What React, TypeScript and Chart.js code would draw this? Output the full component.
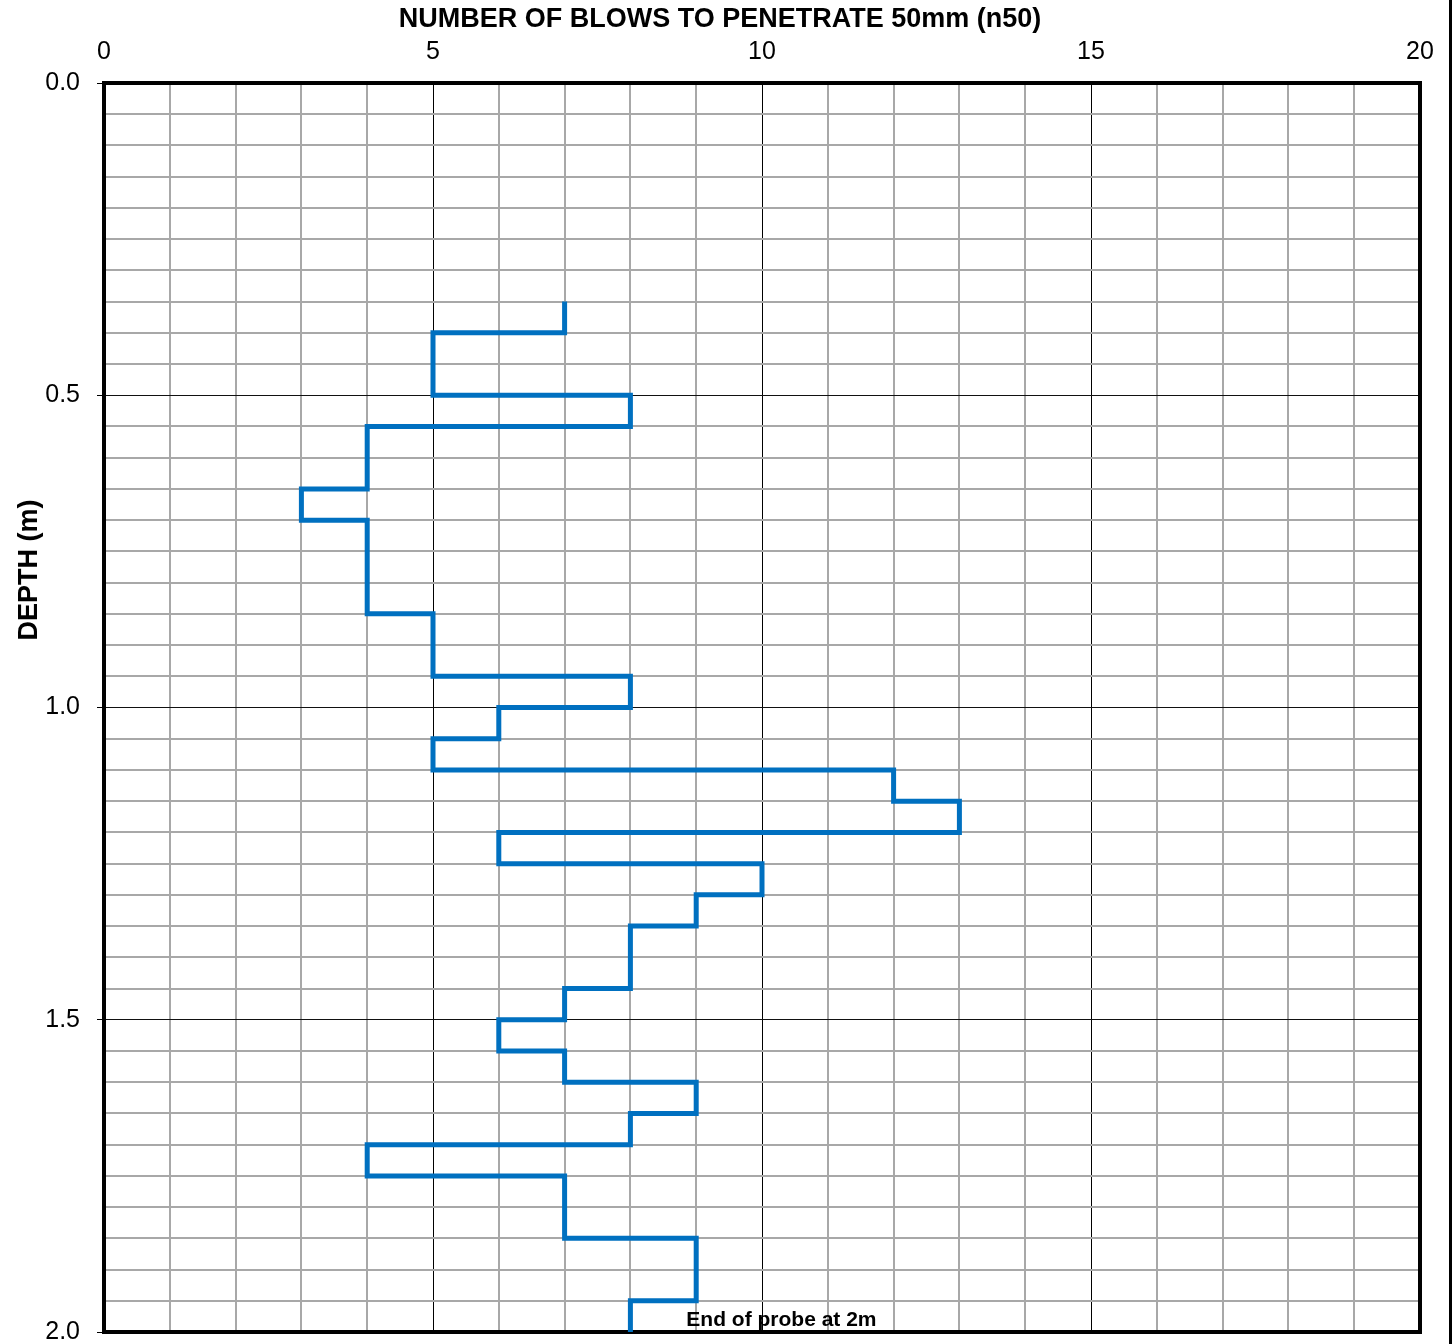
import React, { useEffect, useRef } from "react";
import { Chart, registerables } from "chart.js";

Chart.register(...registerables);

// ---- data ----
const xAxisTitle = "NUMBER OF BLOWS TO PENETRATE 50mm (n50)";
const yAxisTitle = "DEPTH (m)";
const endNote = "End of probe at 2m";

const depthFrom = [
  0.35, 0.4, 0.45, 0.5, 0.55, 0.6, 0.65, 0.7, 0.75, 0.8, 0.85, 0.9, 0.95,
  1.0, 1.05, 1.1, 1.15, 1.2, 1.25, 1.3, 1.35, 1.4, 1.45, 1.5, 1.55, 1.6,
  1.65, 1.7, 1.75, 1.8, 1.85, 1.9, 1.95,
];
const blows = [
  7, 5, 5, 8, 4, 4, 3, 4, 4, 4, 5, 5, 8,
  6, 5, 12, 13, 6, 10, 9, 8, 8, 7, 6, 7, 9,
  8, 4, 7, 7, 9, 9, 8,
];
const probeEnd = 2.0;

const xMajorTicks = [0, 5, 10, 15, 20];
const yMajorTicks = [0.0, 0.5, 1.0, 1.5, 2.0];
const xMinorStep = 1;
const yMinorStep = 0.05;
const notePos = { x: 8.85, y: 1.99 };

const FONT = '"Liberation Sans", Arial, sans-serif';
const isMajor = (list: number[], v: number) =>
  list.some((t) => Math.abs(t - v) < 1e-6);

export default function App() {
  const ref = useRef<HTMLCanvasElement | null>(null);

  useEffect(() => {
    document.body.style.margin = "0";
    const canvas = ref.current;
    if (!canvas) return;

    const points: { x: number; y: number }[] = [];
    depthFrom.forEach((d, i) => {
      const next = i + 1 < depthFrom.length ? depthFrom[i + 1] : probeEnd;
      points.push({ x: blows[i], y: d });
      points.push({ x: blows[i], y: next });
    });

    const overlay = {
      id: "overlay",
      beforeDatasetsDraw(chart: any) {
        const { ctx, chartArea: a } = chart;
        ctx.save();
        ctx.strokeStyle = "#000";
        ctx.lineWidth = 4;
        ctx.lineJoin = "miter";
        ctx.strokeRect(a.left, a.top, a.right - a.left, a.bottom - a.top);
        ctx.restore();
      },
      afterDraw(chart: any) {
        const { ctx, scales } = chart;
        ctx.save();
        ctx.fillStyle = "#000";
        ctx.font = `bold 21px ${FONT}`;
        ctx.textAlign = "left";
        ctx.textBaseline = "alphabetic";
        ctx.fillText(
          endNote,
          scales.x.getPixelForValue(notePos.x),
          scales.y.getPixelForValue(notePos.y)
        );
        ctx.font = `bold 27px ${FONT}`;
        ctx.textAlign = "center";
        ctx.textBaseline = "middle";
        ctx.fillText(xAxisTitle, 720, 20);
        ctx.translate(30, 570);
        ctx.rotate(-Math.PI / 2);
        ctx.fillText(yAxisTitle, 0, 0);
        ctx.restore();
        ctx.save();
        ctx.fillStyle = "#000";
        ctx.fillRect(1449, 0, 3, chart.height);
        ctx.restore();
      },
    };

    const chart = new Chart(canvas, {
      type: "scatter",
      data: {
        datasets: [
          {
            data: points,
            showLine: true,
            borderColor: "#0070C0",
            backgroundColor: "#0070C0",
            borderWidth: 5,
            pointRadius: 0,
            borderJoinStyle: "miter",
            borderCapStyle: "butt",
          } as any,
        ],
      },
      options: {
        animation: false,
        responsive: false,
        devicePixelRatio: 1,
        layout: { padding: { left: 0, top: 0, right: 36, bottom: 12 } },
        plugins: { legend: { display: false }, tooltip: { enabled: false } },
        scales: {
          x: {
            type: "linear",
            position: "top",
            min: 0,
            max: 20,
            border: { display: false },
            afterFit: (s: any) => {
              s.height = 83;
              s.paddingLeft = 0;
              s.paddingRight = 0;
            },
            ticks: {
              stepSize: xMinorStep,
              autoSkip: false,
              maxRotation: 0,
              padding: 16,
              color: "#000",
              font: { family: FONT, size: 25 },
              callback: (v: any) =>
                isMajor(xMajorTicks, Number(v)) ? String(Math.round(Number(v))) : "",
            },
            grid: {
              drawTicks: false,
              color: (c: any) =>
                isMajor(xMajorTicks, c.tick?.value) ? "#000" : "#a8a8a8",
              lineWidth: (c: any) => (isMajor(xMajorTicks, c.tick?.value) ? 1 : 2),
            },
          },
          y: {
            type: "linear",
            reverse: true,
            min: 0,
            max: 2,
            border: { display: false },
            afterFit: (s: any) => {
              s.width = 104;
              s.paddingTop = 0;
              s.paddingBottom = 0;
            },
            ticks: {
              stepSize: yMinorStep,
              autoSkip: false,
              padding: 17,
              color: "#000",
              font: { family: FONT, size: 25 },
              callback: (v: any) =>
                isMajor(yMajorTicks, Number(v)) ? Number(v).toFixed(1) : "",
            },
            grid: {
              drawTicks: true,
              tickLength: 7,
              tickWidth: 1,
              tickColor: (c: any) =>
                isMajor(yMajorTicks, c.tick?.value) ? "#000" : "rgba(0,0,0,0)",
              color: (c: any) =>
                isMajor(yMajorTicks, c.tick?.value) ? "#111" : "#a8a8a8",
              lineWidth: (c: any) => (isMajor(yMajorTicks, c.tick?.value) ? 1 : 2),
            },
          },
        },
      },
      plugins: [overlay],
    });

    return () => chart.destroy();
  }, []);

  return (
    <div style={{ width: 1456, height: 1344 }}>
      <canvas
        ref={ref}
        width={1456}
        height={1344}
        style={{ display: "block", width: 1456, height: 1344 }}
      />
    </div>
  );
}
